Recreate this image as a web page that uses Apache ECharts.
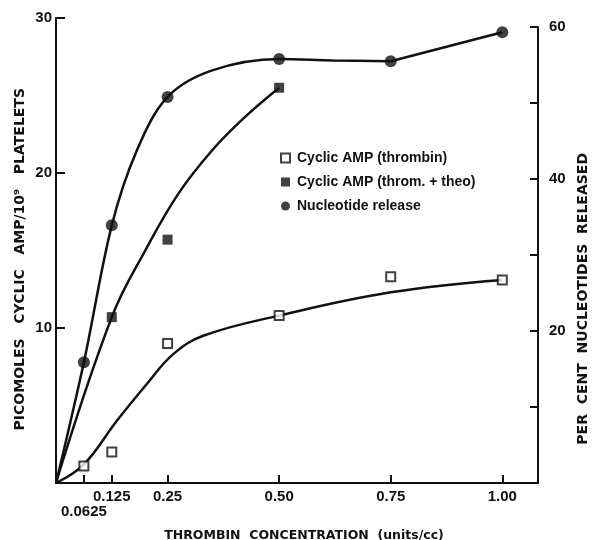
<!DOCTYPE html>
<html>
<head>
<meta charset="utf-8">
<script src="https://cdn.jsdelivr.net/npm/echarts@6/dist/echarts.min.js"></script>
<style>html,body{margin:0;padding:0;background:#fff}#c{width:592px;height:540px}</style>
</head>
<body>
<div id="c"></div>
<script>
// ---- data ----
const xTicks = [0.0625, 0.125, 0.25, 0.5, 0.75, 1.0];
const xTickLabels = ['0.0625', '0.125', '0.25', '0.50', '0.75', '1.00'];

// measured points
const ampThrombinX = [0.0625, 0.125, 0.25, 0.5, 0.75, 1.0];
const ampThrombinY = [1.1, 2.0, 9.0, 10.8, 13.3, 13.1];
const ampTheoX = [0.125, 0.25, 0.5];
const ampTheoY = [10.7, 15.7, 25.5];
const nucleoX = [0.0625, 0.125, 0.25, 0.5, 0.75, 1.0];
const nucleoY = [15.9, 33.9, 50.8, 55.8, 55.5, 59.3];

// hand-drawn fitted curves
const ampThrombinCurveX = [0, 0.0625, 0.136, 0.204, 0.262, 0.33, 0.5, 0.75, 1.0];
const ampThrombinCurveY = [0, 1.2, 4.0, 6.4, 8.3, 9.5, 10.8, 12.3, 13.1];
const ampTheoCurveX = [0, 0.125, 0.2, 0.275, 0.351, 0.423, 0.5];
const ampTheoCurveY = [0, 10.7, 15.0, 18.7, 21.5, 23.6, 25.5];
const nucleoCurveX = [0, 0.0625, 0.125, 0.18, 0.25, 0.35, 0.5, 0.62, 0.75];
const nucleoCurveY = [0, 15.9, 33.9, 43.6, 50.8, 54.3, 55.8, 55.6, 55.5];
const nucleoTailX = [0.75, 1.0];
const nucleoTailY = [55.5, 59.3];

const names = ['Cyclic AMP (thrombin)', 'Cyclic AMP (throm. + theo)', 'Nucleotide release'];
const leftTitle = 'PICOMOLES   CYCLIC   AMP/10\u2079   PLATELETS';
const rightTitle = 'PER  CENT  NUCLEOTIDES  RELEASED';
const xTitle = 'THROMBIN  CONCENTRATION  (units/cc)';

const zip = (xs, ys) => xs.map((x, i) => [x, ys[i]]);
const FONT = 'Liberation Sans';
const TFONT = 'DejaVu Sans';
const INK = '#111';

const chart = echarts.init(document.getElementById('c'), null, {renderer: 'canvas'});
chart.setOption({
  backgroundColor: '#fff',
  animation: false,
  grid: [
    {left: 56, right: 54, top: 18, bottom: 57, outerBoundsMode: 'none', containLabel: false},
    {left: 56, right: 54, top: 27, bottom: 57, outerBoundsMode: 'none', containLabel: false}
  ],
  xAxis: [
    {
      type: 'value', gridIndex: 0, min: 0, max: 1.08,
      axisLine: {show: true, onZero: false, lineStyle: {color: INK, width: 2}},
      axisTick: {show: true, inside: true, length: 8, customValues: xTicks, lineStyle: {color: INK, width: 2}},
      axisLabel: {
        show: true, customValues: xTicks.slice(1), margin: 6, hideOverlap: false,
        color: INK, fontFamily: FONT, fontWeight: 'bold', fontSize: 15,
        formatter: v => {
          const i = xTicks.findIndex(t => Math.abs(t - v) < 1e-6);
          return i < 0 ? '' : xTickLabels[i];
        }
      },
      splitLine: {show: false},
      name: xTitle, nameLocation: 'middle', nameGap: 46,
      nameTextStyle: {color: INK, fontFamily: TFONT, fontWeight: 'bold', fontSize: 12.5, padding: [0, 0, 0, 14]}
    },
    {
      type: 'value', gridIndex: 1, min: 0, max: 1.08,
      axisLine: {show: false, onZero: false},
      axisTick: {show: false},
      splitLine: {show: false},
      axisLabel: {
        show: true, customValues: [xTicks[0]], margin: 21, hideOverlap: false,
        color: INK, fontFamily: FONT, fontWeight: 'bold', fontSize: 15,
        formatter: v => xTickLabels[0]
      }
    }
  ],
  yAxis: [
    {
      type: 'value', gridIndex: 0, min: 0, max: 30, interval: 10, position: 'left',
      axisLine: {show: true, onZero: false, lineStyle: {color: INK, width: 2}},
      axisTick: {show: true, inside: true, length: 9, lineStyle: {color: INK, width: 2}},
      axisLabel: {
        color: INK, fontFamily: FONT, fontWeight: 'bold', fontSize: 15, margin: 4,
        formatter: v => v === 0 ? '' : String(v)
      },
      splitLine: {show: false}
    },
    {
      type: 'value', gridIndex: 1, min: 0, max: 60, interval: 10, position: 'right',
      axisLine: {show: true, onZero: false, lineStyle: {color: INK, width: 2}},
      axisTick: {show: true, inside: true, length: 8, lineStyle: {color: INK, width: 2}},
      axisLabel: {
        color: INK, fontFamily: FONT, fontWeight: 'bold', fontSize: 15, margin: 11,
        formatter: v => (v === 20 || v === 40 || v === 60) ? String(v) : ''
      },
      splitLine: {show: false}
    }
  ],
  legend: {
    orient: 'vertical', left: 275, top: 146, itemWidth: 9, itemHeight: 9, itemGap: 10,
    data: names,
    textStyle: {color: INK, fontFamily: FONT, fontWeight: 'bold', fontSize: 14, padding: [0, 0, 0, 2]}
  },
  graphic: [
    {
      type: 'text', left: 13, top: 88, rotation: Math.PI / 2,
      style: {text: leftTitle, fill: INK, font: 'bold 14px "DejaVu Sans"'}
    },
    {
      type: 'text', left: 576, top: 153, rotation: Math.PI / 2,
      style: {text: rightTitle, fill: INK, font: 'bold 14px "DejaVu Sans"'}
    }
  ],
  series: [
    {type: 'line', xAxisIndex: 0, yAxisIndex: 0, data: zip(ampThrombinCurveX, ampThrombinCurveY), smooth: 0.4, showSymbol: false, symbol: 'none', lineStyle: {color: INK, width: 2.5}, silent: true},
    {type: 'line', xAxisIndex: 0, yAxisIndex: 0, data: zip(ampTheoCurveX, ampTheoCurveY), smooth: 0.4, showSymbol: false, symbol: 'none', lineStyle: {color: INK, width: 2.5}, silent: true},
    {type: 'line', xAxisIndex: 1, yAxisIndex: 1, data: zip(nucleoCurveX, nucleoCurveY), smooth: 0.35, showSymbol: false, symbol: 'none', lineStyle: {color: INK, width: 2.5}, silent: true},
    {type: 'line', xAxisIndex: 1, yAxisIndex: 1, data: zip(nucleoTailX, nucleoTailY), showSymbol: false, symbol: 'none', lineStyle: {color: INK, width: 2.5}, silent: true},
    {name: names[0], type: 'scatter', xAxisIndex: 0, yAxisIndex: 0, data: zip(ampThrombinX, ampThrombinY), symbol: 'rect', symbolSize: 9, itemStyle: {color: '#fff', borderColor: INK, borderWidth: 2}, z: 5},
    {name: names[1], type: 'scatter', xAxisIndex: 0, yAxisIndex: 0, data: zip(ampTheoX, ampTheoY), symbol: 'rect', symbolSize: 10, itemStyle: {color: INK}, z: 5},
    {name: names[2], type: 'scatter', xAxisIndex: 1, yAxisIndex: 1, data: zip(nucleoX, nucleoY), symbol: 'circle', symbolSize: 12, itemStyle: {color: INK}, z: 5}
  ]
});
</script>
</body>
</html>
